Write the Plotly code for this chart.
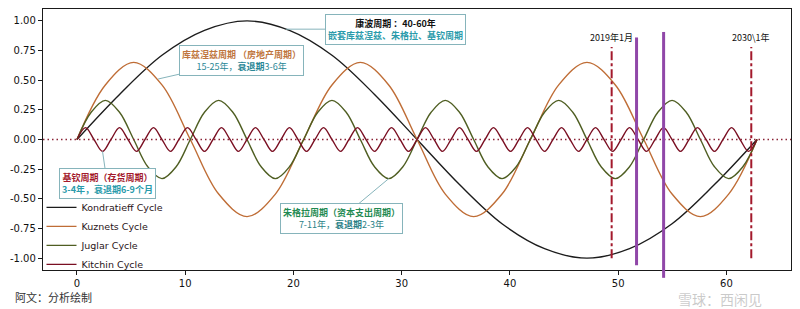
import plotly.graph_objects as go

# ---- data ----
kond_x = [0.00, 3.93, 7.85, 11.78, 15.71, 19.63, 23.56, 27.49, 31.42, 35.34, 39.27,
          43.20, 47.12, 51.05, 54.98, 58.90, 62.83]
kond_y = [0.00, 0.38, 0.71, 0.92, 1.00, 0.92, 0.71, 0.38, 0.00, -0.38, -0.71,
          -0.92, -1.00, -0.92, -0.71, -0.38, 0.00]

kuz_x = [0.00, 2.62, 5.24, 7.85, 10.47, 13.09, 15.71, 18.33, 20.94, 23.56, 26.18, 28.80,
         31.42, 34.03, 36.65, 39.27, 41.89, 44.51, 47.12, 49.74, 52.36, 54.98, 57.60,
         60.21, 62.83]
kuz_y = [0.00, 0.46, 0.65, 0.46, 0.00, -0.46, -0.65, -0.46,
         0.00, 0.46, 0.65, 0.46, 0.00, -0.46, -0.65, -0.46,
         0.00, 0.46, 0.65, 0.46, 0.00, -0.46, -0.65, -0.46, 0.00]

jug_x = [0.00, 1.31, 2.62, 3.93, 5.24, 6.54, 7.85, 9.16, 10.47, 11.78, 13.09, 14.40,
         15.71, 17.02, 18.33, 19.63, 20.94, 22.25, 23.56, 24.87, 26.18, 27.49, 28.80,
         30.11, 31.42, 32.72, 34.03, 35.34, 36.65, 37.96, 39.27, 40.58, 41.89, 43.20,
         44.51, 45.81, 47.12, 48.43, 49.74, 51.05, 52.36, 53.67, 54.98, 56.29, 57.60,
         58.90, 60.21, 61.52, 62.83]
jug_y = [0.00, 0.23, 0.33, 0.23, 0.00, -0.23, -0.33, -0.23,
         0.00, 0.23, 0.33, 0.23, 0.00, -0.23, -0.33, -0.23,
         0.00, 0.23, 0.33, 0.23, 0.00, -0.23, -0.33, -0.23,
         0.00, 0.23, 0.33, 0.23, 0.00, -0.23, -0.33, -0.23,
         0.00, 0.23, 0.33, 0.23, 0.00, -0.23, -0.33, -0.23,
         0.00, 0.23, 0.33, 0.23, 0.00, -0.23, -0.33, -0.23, 0.00]

kit_x = [0.00, 0.79, 1.57, 2.36, 3.14, 3.93, 4.71, 5.50, 6.28, 7.07, 7.85, 8.64, 9.42,
         10.21, 11.00, 11.78, 12.57, 13.35, 14.14, 14.92, 15.71, 16.49, 17.28, 18.06,
         18.85, 19.63, 20.42, 21.21, 21.99, 22.78, 23.56, 24.35, 25.13, 25.92, 26.70,
         27.49, 28.27, 29.06, 29.85, 30.63, 31.42, 32.20, 32.99, 33.77, 34.56, 35.34,
         36.13, 36.91, 37.70, 38.48, 39.27, 40.06, 40.84, 41.63, 42.41, 43.20, 43.98,
         44.77, 45.55, 46.34, 47.12, 47.91, 48.69, 49.48, 50.27, 51.05, 51.84, 52.62,
         53.41, 54.19, 54.98, 55.76, 56.55, 57.33, 58.12, 58.90, 59.69, 60.48, 61.26,
         62.05, 62.83]
kit_y = [0.0, 0.1, 0.0, -0.1, 0.0, 0.1, 0.0, -0.1, 0.0, 0.1, 0.0, -0.1, 0.0, 0.1, 0.0, -0.1,
         0.0, 0.1, 0.0, -0.1, 0.0, 0.1, 0.0, -0.1, 0.0, 0.1, 0.0, -0.1, 0.0, 0.1, 0.0, -0.1,
         0.0, 0.1, 0.0, -0.1, 0.0, 0.1, 0.0, -0.1, 0.0, 0.1, 0.0, -0.1, 0.0, 0.1, 0.0, -0.1,
         0.0, 0.1, 0.0, -0.1, 0.0, 0.1, 0.0, -0.1, 0.0, 0.1, 0.0, -0.1, 0.0, 0.1, 0.0, -0.1,
         0.0, 0.1, 0.0, -0.1, 0.0, 0.1, 0.0, -0.1, 0.0, 0.1, 0.0, -0.1, 0.0, 0.1, 0.0, -0.1,
         0.0]

series_names = ["Kondratieff Cycle", "Kuznets Cycle", "Juglar Cycle", "Kitchin Cycle"]
series_colors = ["#1c1c1c", "#bf6d36", "#4f5e22", "#7a0f22"]

# reference date markers
date_x = [49.4, 62.3]
date_labels = ["2019年1月", "2030\\1年"]
date_top = 0.78
purple_x = [51.7, 54.2]

x_ticks = [0, 10, 20, 30, 40, 50, 60]
y_ticks = [-1.0, -0.75, -0.5, -0.25, 0.0, 0.25, 0.5, 0.75, 1.0]
y_ticktext = ["-1.00", "-0.75", "-0.50", "-0.25", "0.00", "0.25", "0.50", "0.75", "1.00"]

TEAL = "#2a9bab"
BOX = "#86b4bb"
CJK = "Noto Sans CJK SC"

fig = go.Figure()
for xs, ys, name, col in zip([kond_x, kuz_x, jug_x, kit_x], [kond_y, kuz_y, jug_y, kit_y],
                             series_names, series_colors):
    fig.add_trace(go.Scatter(x=xs, y=ys, mode="lines", name=name,
                             line=dict(color=col, width=1.4, shape="spline")))

shapes = []
# dotted zero line
shapes.append(dict(type="line", xref="paper", x0=0, x1=1, yref="y", y0=0, y1=0,
                   line=dict(color="#8a2336", width=1.5, dash="1.5px,3px")))
for dx in date_x:
    shapes.append(dict(type="line", xref="x", x0=dx, x1=dx, yref="y", y0=-1.0, y1=date_top,
                       line=dict(color="#a3192c", width=2, dash="dashdot")))
shapes.append(dict(type="line", xref="x", x0=purple_x[0], x1=purple_x[0], yref="y",
                   y0=-1.06, y1=0.86, line=dict(color="#9047a8", width=3)))
shapes.append(dict(type="line", xref="x", x0=purple_x[1], x1=purple_x[1], yref="paper",
                   y0=-0.03, y1=0.912, line=dict(color="#9047a8", width=3)))

annotations = []
for dx, lab in zip(date_x, date_labels):
    annotations.append(dict(x=dx, y=0.86, xref="x", yref="y", text=lab, showarrow=False,
                            font=dict(family=CJK, size=9, color="#111111")))

def callout(tx, ty, bx, by, line1, col1, line2, col2):
    return dict(x=tx, y=ty, xref="x", yref="y", ax=bx, ay=by, axref="x", ayref="y",
                text=f"<b><span style='color:{col1}'>{line1}</span></b><br>"
                     f"<span style='color:{col2}'>{line2}</span>",
                showarrow=True, arrowhead=0, arrowwidth=1, arrowcolor=BOX,
                bgcolor="white", bordercolor=BOX, borderwidth=1, borderpad=2,
                font=dict(family=CJK, size=9), align="center")

annotations.append(callout(19.3, 0.93, 29.4, 0.93, "康波周期 ：40-60年", "#111111",
                           "<b>嵌套库兹涅兹、朱格拉、基钦周期</b>", TEAL))
annotations.append(callout(7.5, 0.51, 15.2, 0.67, "库兹涅兹周期 （房地产周期）", "#c0763e",
                           "15-25年，<b>衰退期</b>3-6年", "#2a8796"))
annotations.append(callout(2.36, -0.1, 2.8, -0.375, "基钦周期（存货周期）", "#a3192c",
                           "<b>3-4年，衰退期6-9个月</b>", TEAL))
annotations.append(callout(28.8, -0.33, 24.4, -0.665, "朱格拉周期（资本支出周期）", "#1f8a52",
                           "7-11年，<b>衰退期</b>2-3年", "#2a7f86"))

annotations.append(dict(x=-0.04, y=-0.103, xref="paper", yref="paper", xanchor="left",
                        yanchor="middle", text="阿文：分析绘制", showarrow=False,
                        font=dict(family=CJK, size=11, color="#333333")))
annotations.append(dict(x=0.905, y=-0.113, xref="paper", yref="paper", xanchor="center",
                        yanchor="middle", text="雪球：西闲见", showarrow=False,
                        font=dict(family=CJK, size=14, color="rgba(150,150,150,0.5)")))

fig.update_layout(
    width=800, height=309,
    margin=dict(l=43, r=9, t=9, b=39),
    paper_bgcolor="white", plot_bgcolor="white",
    shapes=shapes, annotations=annotations,
    showlegend=True,
    legend=dict(x=-0.002, y=-0.034, xanchor="left", yanchor="bottom",
                bgcolor="rgba(0,0,0,0)", itemwidth=30,
                font=dict(family="DejaVu Sans", size=9.5, color="#2a1418")),
    xaxis=dict(range=[-3.14, 65.97], tickvals=x_ticks, showgrid=False, zeroline=False,
               showline=True, mirror=True, linecolor="#1a1a1a", linewidth=1.3,
               ticks="outside", ticklen=4, tickcolor="#1a1a1a",
               tickfont=dict(family="DejaVu Sans", size=10, color="#111111")),
    yaxis=dict(range=[-1.1, 1.1], tickvals=y_ticks, ticktext=y_ticktext, showgrid=False,
               zeroline=False, showline=True, mirror=True, linecolor="#1a1a1a",
               linewidth=1.3, ticks="outside", ticklen=4, tickcolor="#1a1a1a",
               tickfont=dict(family="DejaVu Sans", size=10, color="#111111")),
)

fig.write_html("out.html")
